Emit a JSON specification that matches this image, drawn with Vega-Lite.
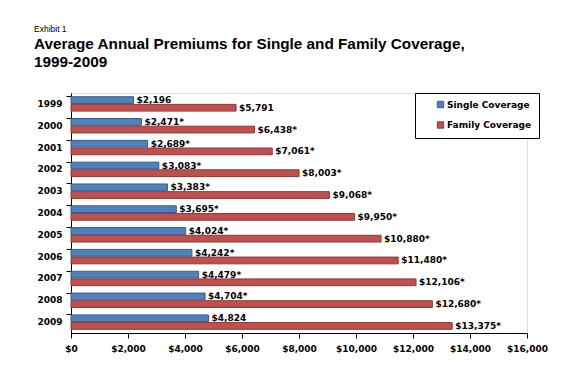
{
  "$schema": "https://vega.github.io/schema/vega-lite/v6.json",
  "width": 456,
  "height": 240,
  "autosize": {"type": "none"},
  "padding": {"left": 71, "top": 93, "right": 57, "bottom": 44},
  "background": "white",
  "title": {
    "text": "Exhibit 1",
    "subtitle": ["Average Annual Premiums for Single and Family Coverage,", "1999-2009"],
    "anchor": "start",
    "frame": "group",
    "dx": -37,
    "offset": 22,
    "font": "Liberation Sans",
    "fontSize": 8.5,
    "fontWeight": "normal",
    "color": "black",
    "subtitleFont": "Liberation Sans",
    "subtitleFontSize": 15.3,
    "subtitleFontWeight": "bold",
    "subtitleColor": "black",
    "subtitleLineHeight": 18,
    "subtitlePadding": 4
  },
  "data": {
    "values": [
      {"year": "1999", "series": "Single Coverage", "value": 2196, "label": "$2,196"},
      {"year": "1999", "series": "Family Coverage", "value": 5791, "label": "$5,791"},
      {"year": "2000", "series": "Single Coverage", "value": 2471, "label": "$2,471*"},
      {"year": "2000", "series": "Family Coverage", "value": 6438, "label": "$6,438*"},
      {"year": "2001", "series": "Single Coverage", "value": 2689, "label": "$2,689*"},
      {"year": "2001", "series": "Family Coverage", "value": 7061, "label": "$7,061*"},
      {"year": "2002", "series": "Single Coverage", "value": 3083, "label": "$3,083*"},
      {"year": "2002", "series": "Family Coverage", "value": 8003, "label": "$8,003*"},
      {"year": "2003", "series": "Single Coverage", "value": 3383, "label": "$3,383*"},
      {"year": "2003", "series": "Family Coverage", "value": 9068, "label": "$9,068*"},
      {"year": "2004", "series": "Single Coverage", "value": 3695, "label": "$3,695*"},
      {"year": "2004", "series": "Family Coverage", "value": 9950, "label": "$9,950*"},
      {"year": "2005", "series": "Single Coverage", "value": 4024, "label": "$4,024*"},
      {"year": "2005", "series": "Family Coverage", "value": 10880, "label": "$10,880*"},
      {"year": "2006", "series": "Single Coverage", "value": 4242, "label": "$4,242*"},
      {"year": "2006", "series": "Family Coverage", "value": 11480, "label": "$11,480*"},
      {"year": "2007", "series": "Single Coverage", "value": 4479, "label": "$4,479*"},
      {"year": "2007", "series": "Family Coverage", "value": 12106, "label": "$12,106*"},
      {"year": "2008", "series": "Single Coverage", "value": 4704, "label": "$4,704*"},
      {"year": "2008", "series": "Family Coverage", "value": 12680, "label": "$12,680*"},
      {"year": "2009", "series": "Single Coverage", "value": 4824, "label": "$4,824"},
      {"year": "2009", "series": "Family Coverage", "value": 13375, "label": "$13,375*"}
    ]
  },
  "encoding": {
    "y": {
      "field": "year",
      "type": "ordinal",
      "scale": {"paddingInner": 0.34, "paddingOuter": 0.17},
      "axis": {
        "title": null,
        "bandPosition": 0,
        "domainColor": "black",
        "tickColor": "black",
        "tickSize": 5,
        "labelPadding": 4,
        "labelFont": "DejaVu Sans",
        "labelFontWeight": "bold",
        "labelFontSize": 9,
        "labelColor": "black"
      }
    },
    "yOffset": {
      "field": "series",
      "type": "nominal",
      "sort": ["Single Coverage", "Family Coverage"],
      "scale": {"paddingInner": 0.12}
    },
    "x": {
      "field": "value",
      "type": "quantitative",
      "scale": {"domain": [0, 16000], "nice": false},
      "axis": {
        "title": null,
        "values": [0, 2000, 4000, 6000, 8000, 10000, 12000, 14000, 16000],
        "format": "$,.0f",
        "labelOverlap": false,
        "labelFlush": false,
        "grid": false,
        "domainColor": "black",
        "tickColor": "black",
        "tickSize": 5,
        "labelPadding": 6,
        "labelFont": "DejaVu Sans",
        "labelFontWeight": "bold",
        "labelFontSize": 9,
        "labelColor": "black"
      }
    }
  },
  "layer": [
    {
      "mark": {"type": "bar", "strokeWidth": 1},
      "encoding": {
        "color": {
          "field": "series",
          "type": "nominal",
          "sort": ["Single Coverage", "Family Coverage"],
          "scale": {"domain": ["Single Coverage", "Family Coverage"], "range": ["#4F81BD", "#C0504D"]},
          "legend": {
            "title": null,
            "orient": "none",
            "legendX": 344,
            "legendY": 0,
            "direction": "vertical",
            "strokeColor": "black",
            "fillColor": "white",
            "padding": 7,
            "rowPadding": 9.5,
            "symbolType": "square",
            "symbolSize": 40,
            "symbolOffset": 14,
            "symbolStrokeWidth": 1,
            "labelExpr": "datum.label + '\u00a0\u00a0\u00a0'",
            "labelFont": "DejaVu Sans",
            "labelFontWeight": "bold",
            "labelFontSize": 9,
            "labelColor": "black",
            "labelOffset": 2
          }
        },
        "stroke": {
          "field": "series",
          "type": "nominal",
          "scale": {"domain": ["Single Coverage", "Family Coverage"], "range": ["#385D8A", "#8C3836"]},
          "legend": null
        }
      }
    },
    {
      "mark": {"type": "text", "align": "left", "baseline": "middle", "dx": 3, "font": "DejaVu Sans", "fontWeight": "bold", "fontSize": 9, "color": "black"},
      "encoding": {"text": {"field": "label"}}
    }
  ]
}
